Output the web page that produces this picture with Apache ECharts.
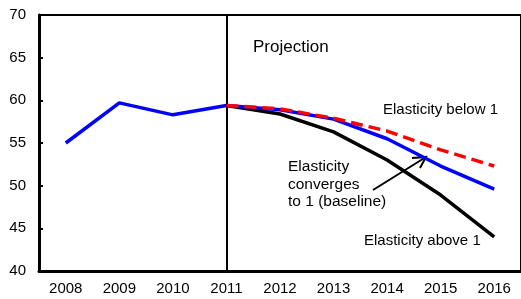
<!DOCTYPE html>
<html>
<head>
<meta charset="utf-8">
<script src="https://cdn.jsdelivr.net/npm/echarts@6/dist/echarts.min.js"></script>
<style>html,body{margin:0;padding:0;background:#fff}#c{width:521px;height:299px}</style>
</head>
<body>
<div id="c"></div>
<script>
var years = ['2008','2009','2010','2011','2012','2013','2014','2015','2016'];
var baseline = [55.0, 59.7, 58.3, 59.4, 58.9, 57.8, 55.5, 52.3, 49.6];
var below1 = [null, null, null, 59.4, 59.0, 57.9, 56.4, 54.2, 52.3];
var above1 = [null, null, null, 59.4, 58.4, 56.3, 53.0, 48.9, 44.0];
var yTicks = [40, 45, 50, 55, 60, 65, 70];

var FONT = '"Liberation Sans", Arial, sans-serif';
var chart = echarts.init(document.getElementById('c'), null, {renderer: 'canvas'});
chart.setOption({
  animation: false,
  backgroundColor: '#fff',
  textStyle: {fontFamily: FONT},
  grid: {left: 39, top: 15, bottom: 28, right: -3, show: true, borderColor: '#000', borderWidth: 2, backgroundColor: 'transparent'},
  xAxis: {
    type: 'category', data: years, boundaryGap: true,
    axisLine: {lineStyle: {color: '#000', width: 3}},
    axisTick: {inside: true, length: 4, lineStyle: {color: '#000', width: 2}},
    axisLabel: {color: '#000', fontSize: 15, fontFamily: FONT, margin: 10}
  },
  yAxis: {
    type: 'value', min: yTicks[0], max: yTicks[yTicks.length-1], interval: 5,
    axisLine: {show: true, lineStyle: {color: '#000', width: 3}},
    axisTick: {show: true, inside: true, length: 4, lineStyle: {color: '#000', width: 2}},
    splitLine: {show: false},
    axisLabel: {color: '#000', fontSize: 15, fontFamily: FONT, margin: 13}
  },
  series: [
    {name: 'Elasticity above 1', type: 'line', data: above1, symbol: 'none', z: 3,
     lineStyle: {color: '#000', width: 3.5}},
    {name: 'Baseline', type: 'line', data: baseline, symbol: 'none', z: 4,
     lineStyle: {color: '#0000ff', width: 3.5},
     markLine: {silent: true, symbol: 'none', label: {show: false},
       lineStyle: {color: '#000', width: 2, type: 'solid'},
       data: [{xAxis: '2011'}]}},
    {name: 'Elasticity below 1', type: 'line', data: below1, symbol: 'none', z: 5,
     lineStyle: {color: '#ff0000', width: 3.5, type: [12, 6]}}
  ],
  graphic: [
    {type: 'text', style: {text: '(Percent of GDP)', x: 283, y: 0, textAlign: 'center', textVerticalAlign: 'bottom', font: '15px ' + FONT, fill: '#000'}},
    {type: 'text', style: {text: 'Projection', x: 253, y: 47, textVerticalAlign: 'middle', font: '17px ' + FONT, fill: '#000'}},
    {type: 'text', style: {text: 'Elasticity below 1', x: 383, y: 110, textVerticalAlign: 'middle', font: '15px ' + FONT, fill: '#000'}},
    {type: 'text', style: {text: 'Elasticity\nconverges\nto 1 (baseline)', x: 288, y: 158, lineHeight: 17.5, font: '15.5px ' + FONT, fill: '#000'}},
    {type: 'text', style: {text: 'Elasticity above 1', x: 364, y: 241, textVerticalAlign: 'middle', font: '15px ' + FONT, fill: '#000'}},
    {type: 'line', shape: {x1: 373, y1: 190, x2: 426, y2: 157}, style: {stroke: '#000', lineWidth: 2}},
    {type: 'polyline', shape: {points: [[412, 158], [426, 157], [420, 168]]}, style: {stroke: '#000', lineWidth: 2, fill: null}}
  ]
});
</script>
</body>
</html>
